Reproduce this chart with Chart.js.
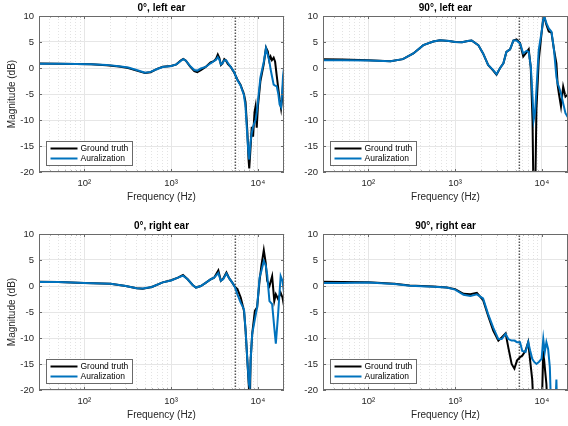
<!DOCTYPE html>
<html>
<head>
<meta charset="utf-8">
<script src="https://cdn.jsdelivr.net/npm/chart.js@4.4.0/dist/chart.umd.min.js"></script>
<style>
  html, body { margin: 0; padding: 0; background: #fff; overflow: hidden; }
  #fig { position: relative; width: 568px; height: 426px; overflow: hidden; background: #fff; }
  #fig canvas { position: absolute; }
</style>
</head>
<body>
<div id="fig">
  <canvas id="c0" width="290" height="210" style="left:0px;top:0px"></canvas>
  <canvas id="c1" width="290" height="210" style="left:284px;top:0px"></canvas>
  <canvas id="c2" width="290" height="210" style="left:0px;top:218px"></canvas>
  <canvas id="c3" width="290" height="210" style="left:284px;top:218px"></canvas>
</div>
<script>
// magnitude responses (dB), frequency in Hz
// values below -20 just run off the bottom of the axes

// 0 deg, left ear
const freq0L = [30, 50, 80, 120, 180, 250, 320, 400, 500, 580, 680, 800, 1000, 1150, 1300, 1380, 1480, 1650, 1850, 2000,
  2200, 2500, 2850, 3100, 3300, 3450, 3600, 3750, 3900, 4100, 4300, 4500, 4870, 5300, 5800, 6300, 6900, 7200, 7550, 7800,
  7950, 8200, 8500, 8800, 9150, 9400, 9700, 10000, 10700, 11700, 12400, 13000, 13500, 14000, 14500, 15200, 15800, 16500, 17200, 17800,
  18500, 19000, 19500, 20000];
const truth0L = [0.85, 0.8, 0.75, 0.7, 0.55, 0.3, 0.0, -0.5, -0.95, -0.8, -0.2, 0.25, 0.4, 0.7, 1.5, 1.75, 1.4, 0.3, -0.6, -0.8,
  -0.4, 0.2, 1.1, 1.3, 1.8, 2.6, 1.9, 0.6, 0.9, 1.7, 1.4, 0.8, 0.2, -0.8, -2.2, -3.2, -5.0, -6.5, -12.0, -17.5,
  -19.3, -15.8, -11.3, -13.2, -8.5, -7.4, -11.5, -7.5, -2.5, 0.8, 3.9, 3.2, 1.5, 2.2, 1.5, 2.0, 1.2, -1.5, -4.0, -6.0,
  -7.8, -6.0, -3.0, -3.5];
const aural0L = [0.8, 0.8, 0.75, 0.7, 0.6, 0.35, 0.1, -0.4, -0.9, -0.75, -0.25, 0.2, 0.4, 0.7, 1.4, 1.7, 1.4, 0.4, -0.4, -0.5,
  -0.1, 0.2, 0.9, 1.3, 1.6, 2.1, 1.6, 0.7, 0.9, 1.5, 1.5, 1.0, 0.2, -0.7, -2.3, -3.3, -5.2, -7.4, -13.0, -16.5,
  -17.6, -14.5, -12.5, -11.3, -10.5, -10.0, -8.5, -6.5, -1.8, 1.2, 3.8, 2.5, 1.5, -0.2, -1.5, -3.2, -3.4, -3.5, -5.0, -7.0,
  -7.5, -5.0, -1.5, 0.0];

// 90 deg, left ear
const freq90L = [30, 50, 100, 180, 250, 330, 430, 560, 670, 850, 1000, 1200, 1400, 1550, 1850, 2100, 2400, 2750, 3000, 3300,
  3600, 3900, 4300, 4700, 5100, 5600, 6100, 6650, 7050, 7450, 7800, 8050, 8350, 8650, 9200, 10000, 10500, 11300, 12000, 12900,
  13800, 14700, 15200, 15700, 16600, 17600, 18700, 20000];
const truth90L = [1.7, 1.65, 1.5, 1.3, 1.7, 2.8, 4.4, 5.1, 5.35, 5.2, 5.0, 4.95, 5.2, 5.3, 4.4, 2.8, 0.6, -0.5, -1.3, 0.0,
  0.9, 3.1, 3.6, 5.3, 5.5, 4.8, 2.2, 3.0, 3.6, 0.0, -10.0, -28.0, -26.0, -8.0, 1.5, 7.3, 10.2, 8.3, 7.0, 6.8,
  3.5, 0.9, -3.3, -4.9, -7.4, -3.6, -5.5, -5.0];
const aural90L = [1.5, 1.5, 1.45, 1.3, 1.7, 2.8, 4.4, 5.1, 5.35, 5.2, 5.0, 4.95, 5.2, 5.3, 4.4, 2.8, 0.6, -0.4, -1.2, 0.0,
  0.9, 3.1, 3.6, 5.3, 5.3, 4.7, 2.8, 3.3, 3.1, 0.3, -5.5, -10.0, -8.5, -4.2, 3.5, 7.3, 10.2, 8.6, 7.6, 7.0,
  3.5, -1.7, -3.0, -3.6, -4.9, -6.8, -8.7, -9.5];

// 0 deg, right ear
const freq0R = [30, 50, 100, 200, 300, 400, 470, 600, 800, 1000, 1200, 1370, 1550, 1770, 1930, 2200, 2500, 2870, 3130, 3500,
  3740, 3980, 4340, 4660, 5090, 5460, 5810, 6340, 6920, 7220, 7560, 7880, 8050, 8250, 8600, 9230, 9800, 10450, 11000, 11700,
  12300, 12800, 13600, 14600, 15450, 16100, 17100, 18300, 19200, 20000];
const truth0R = [0.8, 0.75, 0.6, 0.45, 0.0, -0.45, -0.55, -0.2, 0.7, 1.1, 1.6, 2.1, 1.3, 0.2, -0.3, 0.0, 0.6, 1.3, 1.6, 3.0,
  1.0, 1.4, 2.6, 1.5, 0.6, -0.2, -0.6, -2.2, -4.8, -8.6, -14.3, -19.5, -24.0, -14.3, -9.2, -4.8, -4.1, 1.0, 4.0, 6.9,
  4.5, 1.0, 0.0, 1.9, -2.9, -1.6, -2.5, -1.3, -2.2, -3.8];
const aural0R = [0.75, 0.75, 0.6, 0.45, 0.0, -0.45, -0.5, -0.2, 0.7, 1.05, 1.6, 2.0, 1.3, 0.2, -0.3, 0.0, 0.6, 1.3, 1.6, 2.5,
  1.0, 1.3, 2.4, 1.5, 0.6, -0.3, -1.6, -3.2, -4.5, -8.6, -14.3, -18.8, -19.5, -14.3, -9.2, -6.4, -4.1, 1.6, 3.0, 4.8,
  4.0, 2.2, -2.9, -3.5, -8.0, -11.1, -5.4, 1.9, 1.0, -1.3];

// 90 deg, right ear
const freq90R = [30, 50, 100, 200, 300, 560, 800, 1000, 1250, 1500, 1780, 2100, 2400, 2750, 3150, 3440, 3820, 4100, 4480, 4820,
  5180, 5600, 5940, 6480, 6960, 7320, 7740, 8160, 8660, 9220, 9920, 10380, 10800, 11270, 11800, 12350, 12900, 14100, 14700, 15100,
  15500, 20000];
const truth90R = [0.8, 0.75, 0.7, 0.45, 0.1, -0.1, -0.3, -0.6, -1.5, -1.6, -1.3, -2.7, -5.7, -8.6, -10.5, -9.9, -9.1, -11.8, -15.0, -15.9,
  -14.3, -13.7, -13.4, -12.4, -10.8, -14.3, -18.0, -26.0, -26.0, -26.0, -25.0, -12.4, -15.6, -18.8, -26.0, -26.0, -26.0, -26.0, -26.0, -26.0,
  -26.0, -26.0];
const aural90R = [0.6, 0.6, 0.65, 0.4, 0.05, -0.15, -0.3, -0.7, -1.7, -1.9, -1.6, -2.4, -5.4, -8.0, -10.2, -10.2, -9.2, -10.2, -10.5, -10.5,
  -10.8, -10.8, -12.5, -12.7, -10.8, -12.4, -14.0, -14.6, -15.0, -14.6, -14.0, -10.2, -12.7, -10.8, -12.1, -15.6, -26.0, -26.0, -18.0, -26.0,
  -26.0, -26.0];

const panelTitles = ['0°, left ear', '90°, left ear', '0°, right ear', '90°, right ear'];
const seriesNames = ['Ground truth', 'Auralization'];
const seriesColors = ['#000000', '#0072BD'];
const crossoverHz = 5500;
const yTicks = [-20, -15, -10, -5, 0, 5, 10];
const xMajorTicks = [100, 1000, 10000];
const xTickLabels = ['10²', '10³', '10⁴'];
const xMin = 30, xMax = 20000;

const FONT = "'Liberation Sans', Arial, Helvetica, sans-serif";
const AXCOL = '#262626';
const BOXCOL = '#6a6a6a';

// minor grid positions for the log axis: 2..9 x each decade
let xGrid = [];
for (let d = 10; d <= 10000; d *= 10) {
  for (let m = 1; m <= 9; m++) {
    const v = d * m;
    if (v >= xMin && v <= xMax) xGrid.push(v);
  }
}
xGrid.push(xMax);

const isMajor = (v) => xMajorTicks.includes(v);

// title, box, inward ticks and legend drawn MATLAB style
const matlabAxes = {
  id: 'matlabAxes',
  afterDraw(chart, args, opts) {
    const ctx = chart.ctx;
    const a = chart.chartArea;
    const xs = chart.scales.x;
    const ys = chart.scales.y;
    ctx.save();

    ctx.fillStyle = '#000';
    ctx.font = 'bold 10px ' + FONT;
    ctx.textAlign = 'center';
    ctx.textBaseline = 'middle';
    ctx.fillText(opts.title, (a.left + a.right) / 2, a.top - 8);

    ctx.strokeStyle = BOXCOL;
    ctx.lineWidth = 1;
    ctx.beginPath();
    xs.ticks.forEach(t => {
      if (t.value <= xMin || t.value >= xMax) return;
      const px = Math.round(xs.getPixelForValue(t.value)) + 0.5;
      const len = isMajor(t.value) ? 3 : 1.5;
      ctx.moveTo(px, a.bottom); ctx.lineTo(px, a.bottom - len);
      ctx.moveTo(px, a.top); ctx.lineTo(px, a.top + len);
    });
    ys.ticks.forEach(t => {
      const py = Math.round(ys.getPixelForValue(t.value)) + 0.5;
      ctx.moveTo(a.left, py); ctx.lineTo(a.left + 3, py);
      ctx.moveTo(a.right, py); ctx.lineTo(a.right - 3, py);
    });
    ctx.stroke();
    ctx.strokeRect(a.left + 0.5, a.top + 0.5, a.right - a.left - 1, a.bottom - a.top - 1);

    // legend, south west
    const bw = 86, bh = 24;
    const bx = a.left + 7.5, by = a.bottom - 6.5 - bh;
    ctx.fillStyle = '#fff';
    ctx.fillRect(bx, by, bw, bh);
    ctx.strokeStyle = BOXCOL;
    ctx.strokeRect(bx, by, bw, bh);
    ctx.font = '8.5px ' + FONT;
    ctx.textAlign = 'left';
    seriesNames.forEach((name, i) => {
      const ry = by + 7 + i * 10;
      ctx.strokeStyle = seriesColors[i];
      ctx.lineWidth = 2;
      ctx.beginPath();
      ctx.moveTo(bx + 4, ry); ctx.lineTo(bx + 31, ry);
      ctx.stroke();
      ctx.fillStyle = '#000';
      ctx.fillText(name, bx + 34, ry);
    });
    ctx.restore();
  }
};

function pts(freq, vals) {
  return freq.map((f, i) => ({ x: f, y: vals[i] }));
}

function makePanel(id, title, freq, truth, aural, showYTitle) {
  const tickFont = { family: FONT, size: 9.5 };
  return new Chart(document.getElementById(id), {
    type: 'line',
    data: {
      datasets: [
        { label: seriesNames[1], data: pts(freq, aural), borderColor: seriesColors[1], borderWidth: 2, order: 1 },
        { label: seriesNames[0], data: pts(freq, truth), borderColor: seriesColors[0], borderWidth: 2, order: 2 },
        { label: 'crossover', data: [{ x: crossoverHz, y: yTicks[0] }, { x: crossoverHz, y: yTicks[yTicks.length - 1] }],
          borderColor: '#555555', borderWidth: 1.5, borderDash: [1.5, 1.5], order: 3 }
      ]
    },
    options: {
      responsive: false,
      animation: false,
      devicePixelRatio: 1,
      events: [],
      layout: { padding: { left: 0, right: 4, top: 16, bottom: 0 } },
      elements: { point: { radius: 0 }, line: { tension: 0, fill: false } },
      plugins: {
        legend: { display: false },
        tooltip: { enabled: false },
        title: { display: false },
        matlabAxes: { title: title }
      },
      scales: {
        x: {
          type: 'logarithmic',
          min: xMin,
          max: xMax,
          afterBuildTicks: s => { s.ticks = xGrid.map(v => ({ value: v, major: isMajor(v) })); },
          afterFit: s => { s.height = 38; },
          grid: {
            drawTicks: false,
            color: c => (c.tick && isMajor(c.tick.value)) ? '#e6e6e6' : '#e3e3e3',
            lineWidth: 1
          },
          border: { display: false, dash: c => (c.tick && isMajor(c.tick.value)) ? [] : [1, 2] },
          ticks: {
            autoSkip: false,
            maxRotation: 0,
            padding: 6,
            color: AXCOL,
            font: tickFont,
            callback: (v) => { const k = xMajorTicks.indexOf(v); return k >= 0 ? xTickLabels[k] : ''; }
          },
          title: { display: true, text: 'Frequency (Hz)', color: AXCOL, font: { family: FONT, size: 10 }, padding: { top: 0, bottom: 7 } }
        },
        y: {
          min: yTicks[0],
          max: yTicks[yTicks.length - 1],
          afterBuildTicks: s => { s.ticks = yTicks.map(v => ({ value: v })); },
          afterFit: s => { s.width = 39; },
          grid: { drawTicks: false, color: '#e6e6e6', lineWidth: 1 },
          border: { display: false },
          ticks: { padding: 5, color: AXCOL, font: tickFont },
          title: { display: showYTitle, text: 'Magnitude (dB)', color: AXCOL, font: { family: FONT, size: 10 }, padding: { top: 6, bottom: 0 } }
        }
      }
    },
    plugins: [matlabAxes]
  });
}

makePanel('c0', panelTitles[0], freq0L, truth0L, aural0L, true);
makePanel('c1', panelTitles[1], freq90L, truth90L, aural90L, false);
makePanel('c2', panelTitles[2], freq0R, truth0R, aural0R, true);
makePanel('c3', panelTitles[3], freq90R, truth90R, aural90R, false);
</script>
</body>
</html>
